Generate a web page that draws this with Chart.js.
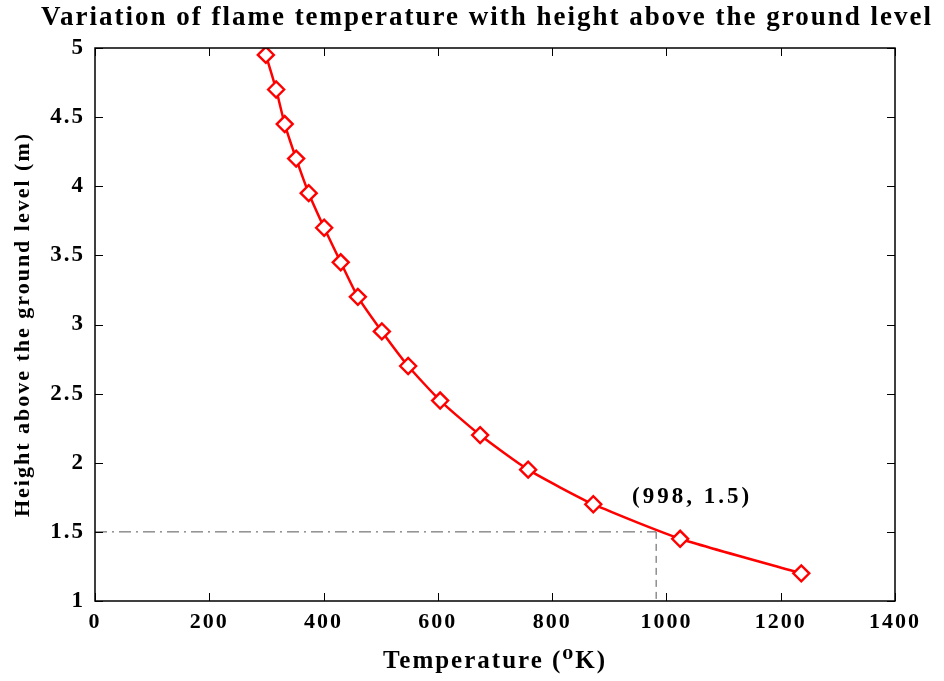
<!DOCTYPE html>
<html><head><meta charset="utf-8">
<script src="https://cdn.jsdelivr.net/npm/chart.js@4/dist/chart.umd.min.js"></script>
<style>html,body{margin:0;padding:0;background:#fff}#wrap{width:944px;height:681px}</style>
</head><body><div id="wrap"><canvas id="c" width="944" height="681"></canvas></div>
<script>
const temperature = [299, 317, 332, 352, 374, 401, 430, 460, 502, 548, 604, 674, 758, 872, 1024, 1236];
const height = [4.95, 4.70, 4.45, 4.20, 3.95, 3.70, 3.45, 3.20, 2.95, 2.70, 2.45, 2.20, 1.95, 1.70, 1.45, 1.20];
const markT = [0, 982];
const markH = [1.5, 1.5];
const markVT = [982, 982];
const markVH = [1.5, 1.0];
const titleText = 'Variation of flame temperature with height above the ground level';
const annotText = "(998, 1.5)";
const annotPos = [1045, 1.75];
const xTicks = [0, 200, 400, 600, 800, 1000, 1200, 1400];
const yTicks = [1, 1.5, 2, 2.5, 3, 3.5, 4, 4.5, 5];

const FONT = "'Liberation Serif', 'DejaVu Serif', serif";

const spacing = {
  id: 'spacing',
  beforeLayout(chart){ chart.ctx.letterSpacing = '2px'; },
  beforeDraw(chart){ chart.ctx.letterSpacing = '2px'; }
};

const frame = {
  id: 'frame',
  afterDatasetsDraw(chart){
    const {ctx, chartArea:a, scales:{x, y}} = chart;
    ctx.save();
    ctx.strokeStyle = '#000';
    ctx.lineWidth = 1.5;
    ctx.strokeRect(a.left, a.top, a.right - a.left, a.bottom - a.top);
    ctx.lineWidth = 1;
    const L = 8;
    xTicks.forEach(v => {
      const px = Math.round(x.getPixelForValue(v)) + 0.5;
      ctx.beginPath();
      ctx.moveTo(px, a.bottom); ctx.lineTo(px, a.bottom - L);
      ctx.moveTo(px, a.top); ctx.lineTo(px, a.top + L);
      ctx.stroke();
    });
    yTicks.forEach(v => {
      const py = Math.round(y.getPixelForValue(v)) + 0.5;
      ctx.beginPath();
      ctx.moveTo(a.left, py); ctx.lineTo(a.left + L, py);
      ctx.moveTo(a.right, py); ctx.lineTo(a.right - L, py);
      ctx.stroke();
    });
    ctx.fillStyle = '#000';
    ctx.textAlign = 'center';
    ctx.textBaseline = 'middle';
    ctx.font = "bold 23px " + FONT;
    ctx.letterSpacing = '3px';
    ctx.fillText(annotText, x.getPixelForValue(annotPos[0]), y.getPixelForValue(annotPos[1]));
    ctx.font = "bold 27px " + FONT;
    ctx.letterSpacing = '2px';
    ctx.fillText(titleText, 487, 18);
    ctx.restore();
  }
};

new Chart(document.getElementById('c'), {
  type: 'scatter',
  data: {
    datasets: [
      {
        data: markT.map((t, i) => ({x: t, y: markH[i]})),
        showLine: true, borderColor: '#555', borderWidth: 1, borderDash: [12, 5, 2, 5],
        pointRadius: 0, fill: false, order: 3
      },
      {
        data: markVT.map((t, i) => ({x: t, y: markVH[i]})),
        showLine: true, borderColor: '#555', borderWidth: 1, borderDash: [7, 5],
        pointRadius: 0, fill: false, order: 2
      },
      {
        data: temperature.map((t, i) => ({x: t, y: height[i]})),
        showLine: true, borderColor: '#ff0000', borderWidth: 2.5, tension: 0.2,
        pointStyle: 'rectRot', pointRadius: 8, pointBorderWidth: 2.4,
        pointBackgroundColor: '#fff', pointBorderColor: '#ff0000', fill: false, order: 1
      }
    ]
  },
  options: {
    responsive: false,
    animation: false,
    layout: {padding: {left: 6, right: 49, top: 48, bottom: 0}},
    plugins: {
      legend: {display: false},
      tooltip: {enabled: false},
      title: {display: false}
    },
    scales: {
      x: {
        type: 'linear', min: 0, max: 1400,
        afterBuildTicks(s){ s.ticks = xTicks.map(v => ({value: v})); },
        afterFit(s){ s.height = 80; },
        grid: {display: false, drawTicks: false},
        border: {display: false},
        ticks: {color: '#000', font: {family: FONT, size: 22, weight: 'bold'}, padding: 8, maxRotation: 0,
                callback: v => String(v)},
        title: {display: true, text: 'Temperature (⁰K)', color: '#000', font: {family: FONT, size: 25, weight: 'bold'}, padding: {top: 9}}
      },
      y: {
        type: 'linear', min: 1, max: 5,
        afterBuildTicks(s){ s.ticks = yTicks.map(v => ({value: v})); },
        afterFit(s){ s.width = 89; },
        grid: {display: false, drawTicks: false},
        border: {display: false},
        ticks: {color: '#000', font: {family: FONT, size: 23, weight: 'bold'}, padding: 10,
                callback: v => (v % 1 === 0 ? String(v) : v.toFixed(1))},
        title: {display: true, text: 'Height above the ground level (m)', color: '#000', font: {family: FONT, size: 22, weight: 'bold'}, padding: {bottom: 2}}
      }
    }
  },
  plugins: [spacing, frame]
});
</script>
</body></html>
